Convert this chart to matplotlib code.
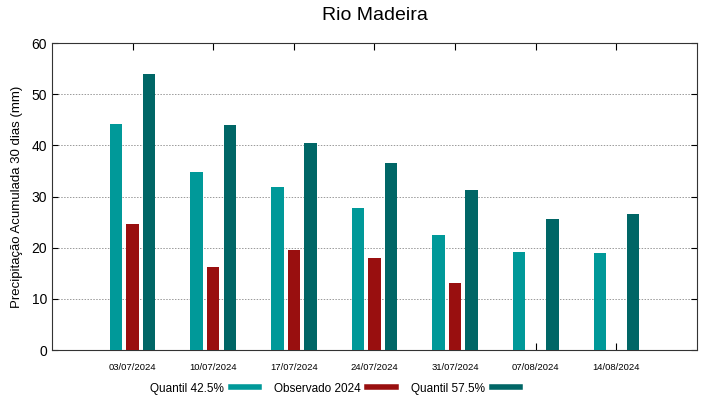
import matplotlib
matplotlib.use("Agg")
import matplotlib.pyplot as plt
from matplotlib.lines import Line2D
import numpy as np

plt.rcParams['font.family'] = ['Liberation Sans', 'DejaVu Sans']

dates = ["03/07/2024", "10/07/2024", "17/07/2024", "24/07/2024",
         "31/07/2024", "07/08/2024", "14/08/2024"]
q425 = [44.2, 34.8, 31.8, 27.8, 22.5, 19.2, 19.0]
obs = [24.6, 16.2, 19.5, 18.0, 13.0, None, None]
q575 = [53.9, 43.9, 40.5, 36.5, 31.3, 25.7, 26.6]
series_names = ["Quantil 42.5%", "Observado 2024", "Quantil 57.5%"]
colors = ["#009999", "#990f0f", "#006666"]

fig = plt.figure(figsize=(7.19, 3.99), dpi=100)
ax = fig.add_axes([0.0723, 0.1228, 0.8971, 0.7694])

x = np.arange(len(dates))
w = 0.155
off = 0.205
ax.bar(x - off, q425, width=w, color=colors[0], zorder=3)
obs_x = [xi for xi, v in zip(x, obs) if v is not None]
obs_v = [v for v in obs if v is not None]
ax.bar(np.array(obs_x), obs_v, width=w, color=colors[1], zorder=3)
ax.bar(x + off, q575, width=w, color=colors[2], zorder=3)

ax.set_xlim(-1, 7)
ax.set_ylim(0, 60)
ax.set_yticks(np.arange(0, 61, 10))
ax.set_xticks(x)
ax.set_xticklabels(dates, fontsize=6.8)
ax.tick_params(axis='y', labelsize=10, direction='in', length=4, right=True)
ax.tick_params(axis='x', direction='in', length=5, top=True, pad=9)
ax.grid(axis='y', linestyle=(0, (1.5, 1.5)), color='#999999', linewidth=0.7, zorder=0)
for s in ax.spines.values():
    s.set_linewidth(0.8)
    s.set_color('#333333')

ax.set_ylabel("Precipitação Acumulada 30 dias (mm)", fontsize=9.5, labelpad=6)
fig.text(0.521, 0.96, "Rio Madeira", fontsize=14, ha='center', va='center')

handles = [Line2D([0], [0], color=c, lw=4) for c in colors]
fig.legend(handles, series_names, loc='center', bbox_to_anchor=(0.466, 0.026),
           ncol=3, frameon=False, markerfirst=False, fontsize=8.5,
           handlelength=2.4, columnspacing=1.3, handletextpad=0.55)

fig.savefig("out.png", dpi=100)
